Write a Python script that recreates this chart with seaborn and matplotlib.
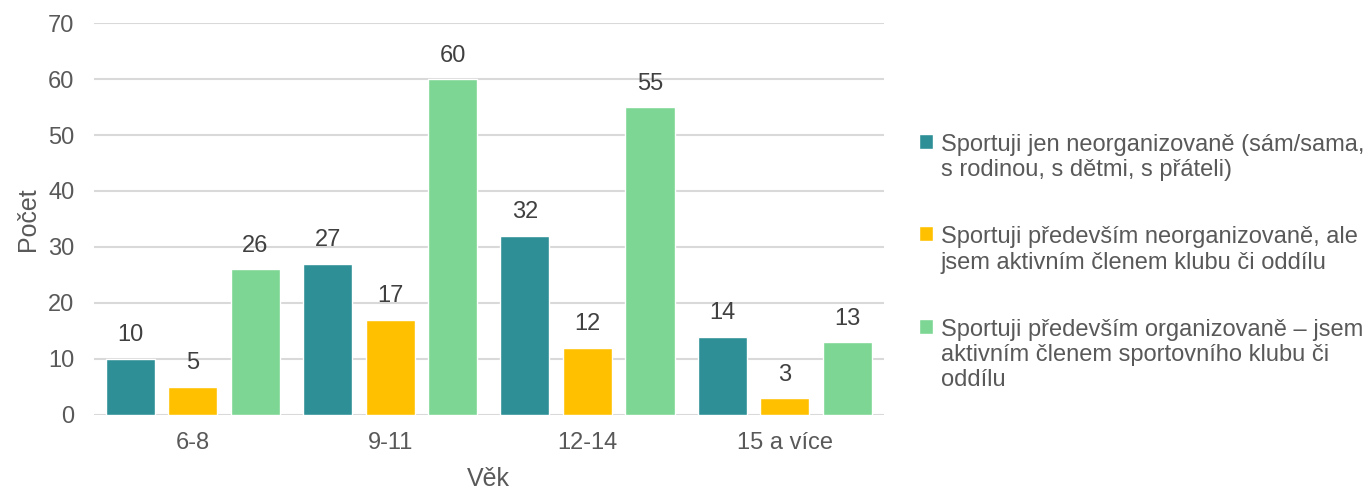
import matplotlib
matplotlib.use("Agg")
import matplotlib.pyplot as plt
import pandas as pd
import seaborn as sns

# Chart data
age_groups = ["6-8", "9-11", "12-14", "15 a více"]
series_names = [
    "Sportuji jen neorganizovaně (sám/sama,\ns rodinou, s dětmi, s přáteli)",
    "Sportuji především neorganizovaně, ale\njsem aktivním členem klubu či oddílu",
    "Sportuji především organizovaně – jsem\naktivním členem sportovního klubu či\noddílu",
]
unorganized = [10, 27, 32, 14]
mostly_unorganized = [5, 17, 12, 3]
organized = [26, 60, 55, 13]
colors = ["#2E9096", "#FFC000", "#7DD694"]

df = pd.DataFrame({
    "Věk": age_groups * 3,
    "series": [series_names[0]] * 4 + [series_names[1]] * 4 + [series_names[2]] * 4,
    "Počet": unorganized + mostly_unorganized + organized,
})

sns.set_style("white")
plt.rcParams["font.family"] = ["Liberation Sans", "DejaVu Sans"]
text_color = "#595959"

fig = plt.figure(figsize=(13.72, 4.91), dpi=100)
ax = fig.add_axes([0.0685, 0.155, 0.5755, 0.798])

sns.barplot(data=df, x="Věk", y="Počet", hue="series", palette=colors,
            width=0.95, gap=0.215, saturation=1, ax=ax, zorder=2)

for cont in ax.containers:
    ax.bar_label(cont, padding=9, fontsize=17, color="#404040")

ax.set_ylim(0, 70)
ax.set_xlim(-0.5, 3.5)
ax.set_yticks(range(0, 71, 10))
ax.yaxis.grid(True, color="#D9D9D9", linewidth=1.5, zorder=0)
ax.set_axisbelow(True)
for s in ax.spines.values():
    s.set_visible(False)
ax.tick_params(axis="both", length=0, labelsize=17, labelcolor=text_color)
ax.tick_params(axis="x", pad=12)
ax.tick_params(axis="y", pad=14)
ax.set_xlabel("Věk", fontsize=18, color=text_color, labelpad=10)
ax.set_ylabel("Počet", fontsize=18, color=text_color, labelpad=6)

leg = ax.legend(loc="center left", bbox_to_anchor=(0.654, 0.465),
                bbox_transform=fig.transFigure, frameon=False, fontsize=17,
                labelcolor=text_color, handlelength=0.6, handleheight=0.6,
                handletextpad=0.35, labelspacing=1.9)
# put the colour squares next to the first line of each entry
for col in leg._legend_handle_box.get_children():
    for hp in col.get_children():
        hp.align = "top"

fig.savefig("out.png", dpi=100)
